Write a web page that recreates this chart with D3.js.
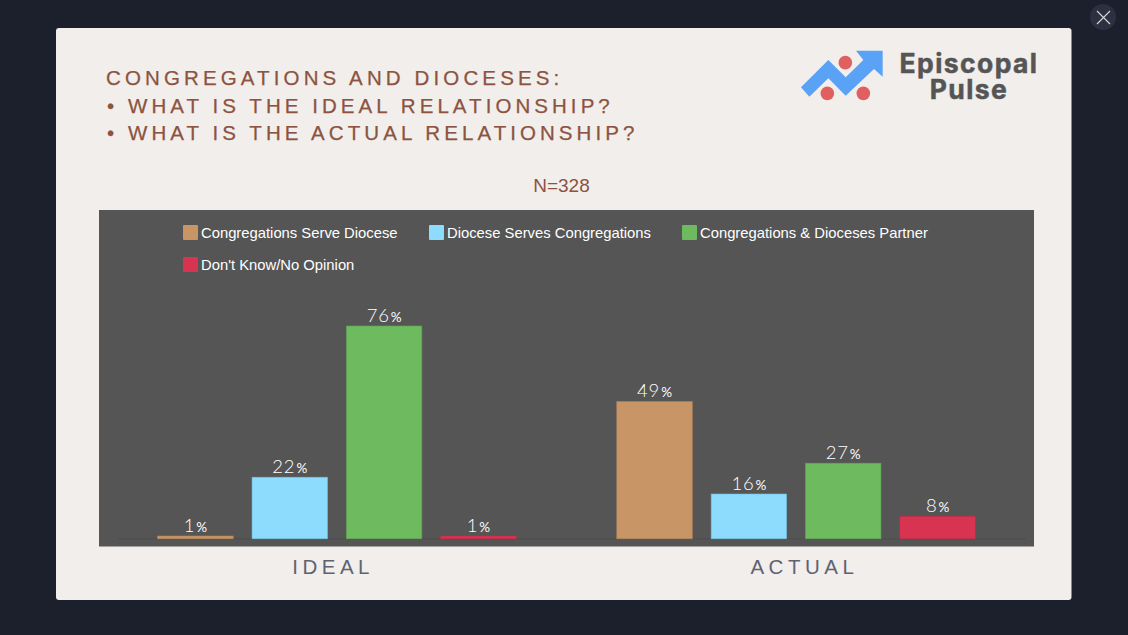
<!DOCTYPE html>
<html><head><meta charset="utf-8">
<script src="https://cdn.jsdelivr.net/npm/d3@7/dist/d3.min.js"></script>
<style>html,body{margin:0;padding:0;background:#1c202d;overflow:hidden}svg{display:block}</style>
</head><body><svg id="c" width="1128" height="635"></svg>
<script>
const groups = ["IDEAL", "ACTUAL"];
const seriesNames = ["Congregations Serve Diocese", "Diocese Serves Congregations", "Congregations & Dioceses Partner", "Don't Know/No Opinion"];
const seriesColors = ["#c89666", "#8ddcfe", "#6eba5f", "#d93352"];
const seriesStrokes = ["#b08358", "#74bcd8", "#5fa352", "#c02c48"];
const idealValues = [1, 22, 76, 1];
const actualValues = [49, 16, 27, 8];
const titleLines = ["CONGREGATIONS AND DIOCESES:", "• WHAT IS THE IDEAL RELATIONSHIP?", "• WHAT IS THE ACTUAL RELATIONSHIP?"];
const sampleLabel = "N=328";
const logoLines = ["Episcopal", "Pulse"];
const groupValues = [idealValues, actualValues];

const svg = d3.select("#c");
svg.append("rect").attr("width",1128).attr("height",635).attr("fill","#1c202d");
svg.append("rect").attr("x",56).attr("y",28).attr("width",1015.5).attr("height",572).attr("rx",3).attr("fill","#f1eeeb");

// close button
svg.append("circle").attr("cx",1103).attr("cy",17).attr("r",13).attr("fill","#2d3040");
svg.append("path").attr("d","M1097 11L1110 24M1110 11L1097 24").attr("stroke","#d5d6da").attr("stroke-width",1.1);

// title
svg.append("g").selectAll("text").data(titleLines).join("text")
  .attr("x",(d,i)=> i?107:106).attr("y",(d,i)=>85+i*27.7)
  .attr("fill","#8c5340").attr("stroke","#8c5340").attr("stroke-width",0.25)
  .attr("font-family","'Liberation Sans',sans-serif")
  .attr("font-size",20.5).attr("letter-spacing",(d,i)=>i?4.06:4.13).attr("xml:space","preserve").text(d=>d);
svg.append("text").attr("x",561.5).attr("y",191.5).attr("text-anchor","middle")
  .attr("fill","#8c5340").attr("font-family","'Liberation Sans',sans-serif").attr("font-size",19).text(sampleLabel);

// logo
const logoPts = [[63,262],[145,180],[197,232],[250,180],[228,152],[308,152],[308,230],[282,207],[197,287],[145,235],[88,290]];
svg.append("polygon").attr("points",logoPts.map(p=>[p[0]/3+780,p[1]/3].join(",")).join(" ")).attr("fill","#5aa2f6");
svg.append("g").selectAll("circle").data([[196,188],[142,280],[250,280]]).join("circle")
  .attr("cx",d=>d[0]/3+780).attr("cy",d=>d[1]/3).attr("r",6.8).attr("fill","#e06060");
svg.append("g").selectAll("text").data(logoLines).join("text")
  .attr("x",969).attr("y",(d,i)=>72.5+i*26.5).attr("text-anchor","middle")
  .attr("fill","#555555").attr("stroke","#555555").attr("stroke-width",0.5)
  .attr("font-family","Inter,'Open Sans',sans-serif").attr("font-weight",700)
  .attr("font-size",26.5).attr("letter-spacing",1.4).text(d=>d);

// plot
svg.append("rect").attr("x",99).attr("y",210).attr("width",935).attr("height",336.5).attr("fill","#555555");

const y = d3.scaleLinear().domain([0,76]).range([538.8,326]);
const x0 = d3.scaleBand().domain(groups).range([107.4,1025.6]);
const x1 = d3.scaleBand().domain(seriesNames).range([50.3,408.8]).paddingInner(0.2).paddingOuter(0);
const xLabel = d3.scaleBand().domain(groups).range([97.5,1040]);

svg.append("line").attr("x1",118).attr("x2",1026).attr("y1",y(0)).attr("y2",y(0)).attr("stroke","#4e4e4e");

const g = svg.append("g").selectAll("g").data(groups).join("g")
  .attr("transform",d=>`translate(${x0(d)},0)`);
const rows = g.selectAll("g").data((d,i)=>seriesNames.map((s,j)=>({s,j,v:groupValues[i][j]}))).join("g");
rows.append("rect")
  .attr("x",d=>x1(d.s)).attr("width",x1.bandwidth())
  .attr("y",d=>y(d.v)).attr("height",d=>y(0)-y(d.v))
  .attr("fill",d=>seriesColors[d.j]).attr("stroke",d=>seriesStrokes[d.j]).attr("stroke-width",0.6);
const labels = rows.append("text")
  .attr("x",d=>x1(d.s)+x1.bandwidth()/2).attr("y",d=>y(d.v)-4.5).attr("text-anchor","middle")
  .attr("fill","#ffffff").attr("font-family","Lato,sans-serif").attr("font-weight",300);
labels.append("tspan").attr("font-size",18.5).attr("letter-spacing",0.8).text(d=>d.v);
labels.append("tspan").attr("font-size",13.5).attr("font-weight",400).attr("dx",1).text("%");

// category axis
const axis = svg.append("g").attr("transform","translate(0,549)").call(d3.axisBottom(xLabel).tickSize(0).tickPadding(10));
axis.select(".domain").remove();
axis.selectAll("text").attr("font-family","'Liberation Sans',sans-serif").attr("font-size",20.5)
  .attr("letter-spacing",4.5).attr("fill","#5d6372");

// legend
const legendPos = [[183,225],[429,225],[682,225],[183,257]];
const leg = svg.append("g").selectAll("g").data(seriesNames).join("g")
  .attr("transform",(d,i)=>`translate(${legendPos[i][0]},${legendPos[i][1]})`);
leg.append("rect").attr("width",15).attr("height",15).attr("rx",1).attr("fill",(d,i)=>seriesColors[i]);
leg.append("text").attr("x",18).attr("y",13).attr("fill","#ffffff")
  .attr("font-family","'Liberation Sans',sans-serif").attr("font-size",14.8).text(d=>d);
</script></body></html>
